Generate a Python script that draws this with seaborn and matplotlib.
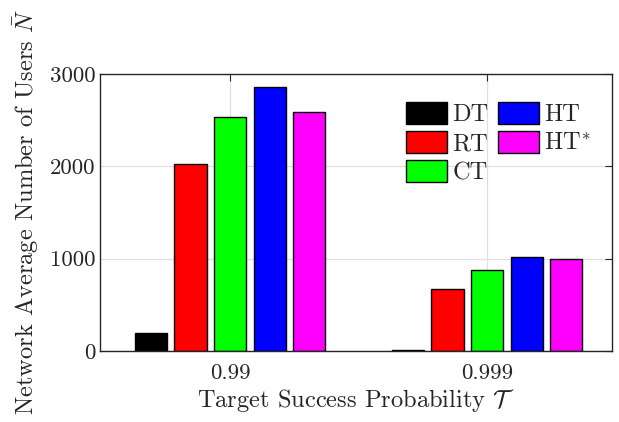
import matplotlib
matplotlib.use("Agg")
import matplotlib.pyplot as plt
import seaborn as sns
import pandas as pd
from matplotlib.patches import Patch

categories = ["0.99", "0.999"]
schemes = ["DT", "RT", "CT", "HT", "HT*"]
DT = [195, 12]
RT = [2030, 676]
CT = [2532, 880]
HT = [2855, 1018]
HTs = [2588, 996]
colors = ["#000000", "#ff0000", "#00ff00", "#0000ff", "#ff00ff"]
legend_labels = ["DT", "RT", "CT", "HT", r"HT$^{*}$"]

rows = []
for s, vals in zip(schemes, [DT, RT, CT, HT, HTs]):
    for c, v in zip(categories, vals):
        rows.append({"T": c, "scheme": s, "N": v})
df = pd.DataFrame(rows)

sns.set_style("white")
plt.rcParams["font.family"] = ["cmr10", "DejaVu Serif"]
plt.rcParams["mathtext.fontset"] = "cm"
plt.rcParams["axes.formatter.use_mathtext"] = True

fig = plt.figure(figsize=(6.19, 4.22), dpi=100)
ax = fig.add_axes([100/619, 1-351/422, 512/619, 277/422])
sns.barplot(data=df, x="T", y="N", hue="scheme", order=categories, hue_order=schemes,
            palette=colors, saturation=1, width=0.77, gap=0.19, edgecolor="black",
            linewidth=1.0, ax=ax, legend=False)
ax.set_xlim(-0.506, 1.486)
ax.set_ylim(0, 3000)
ax.set_yticks([0, 1000, 2000, 3000])
ax.set_yticklabels(["0", "1000", "2000", "3000"])
ax.grid(True, color="#e0e0e0", linewidth=0.9)
ax.set_axisbelow(True)
ax.tick_params(direction="in", length=5, width=0.8, labelsize=16.5, top=True, right=True,
               colors="#262626", labelcolor="#262626")
ax.tick_params(axis="x", pad=9)
for sp in ax.spines.values():
    sp.set_color("#262626")
    sp.set_linewidth(1.0)
ax.set_xlabel(r"Target Success Probability $\mathcal{T}$", fontsize=17.6, color="#262626", labelpad=3)
ax.set_ylabel(r"Network Average Number of Users $\bar{N}$", fontsize=17.6, color="#262626", labelpad=6)

handles = [Patch(facecolor=c, edgecolor="black", linewidth=1.0) for c in colors]
leg = ax.legend(handles, legend_labels, ncol=2, loc="upper left", bbox_to_anchor=(0.598, 0.90),
                frameon=False, fontsize=17.6, handlelength=1.68, handleheight=1.0,
                handletextpad=0.2, columnspacing=0.4, labelspacing=0.2, borderpad=0,
                borderaxespad=0)
fig.savefig("out.png", dpi=100)
